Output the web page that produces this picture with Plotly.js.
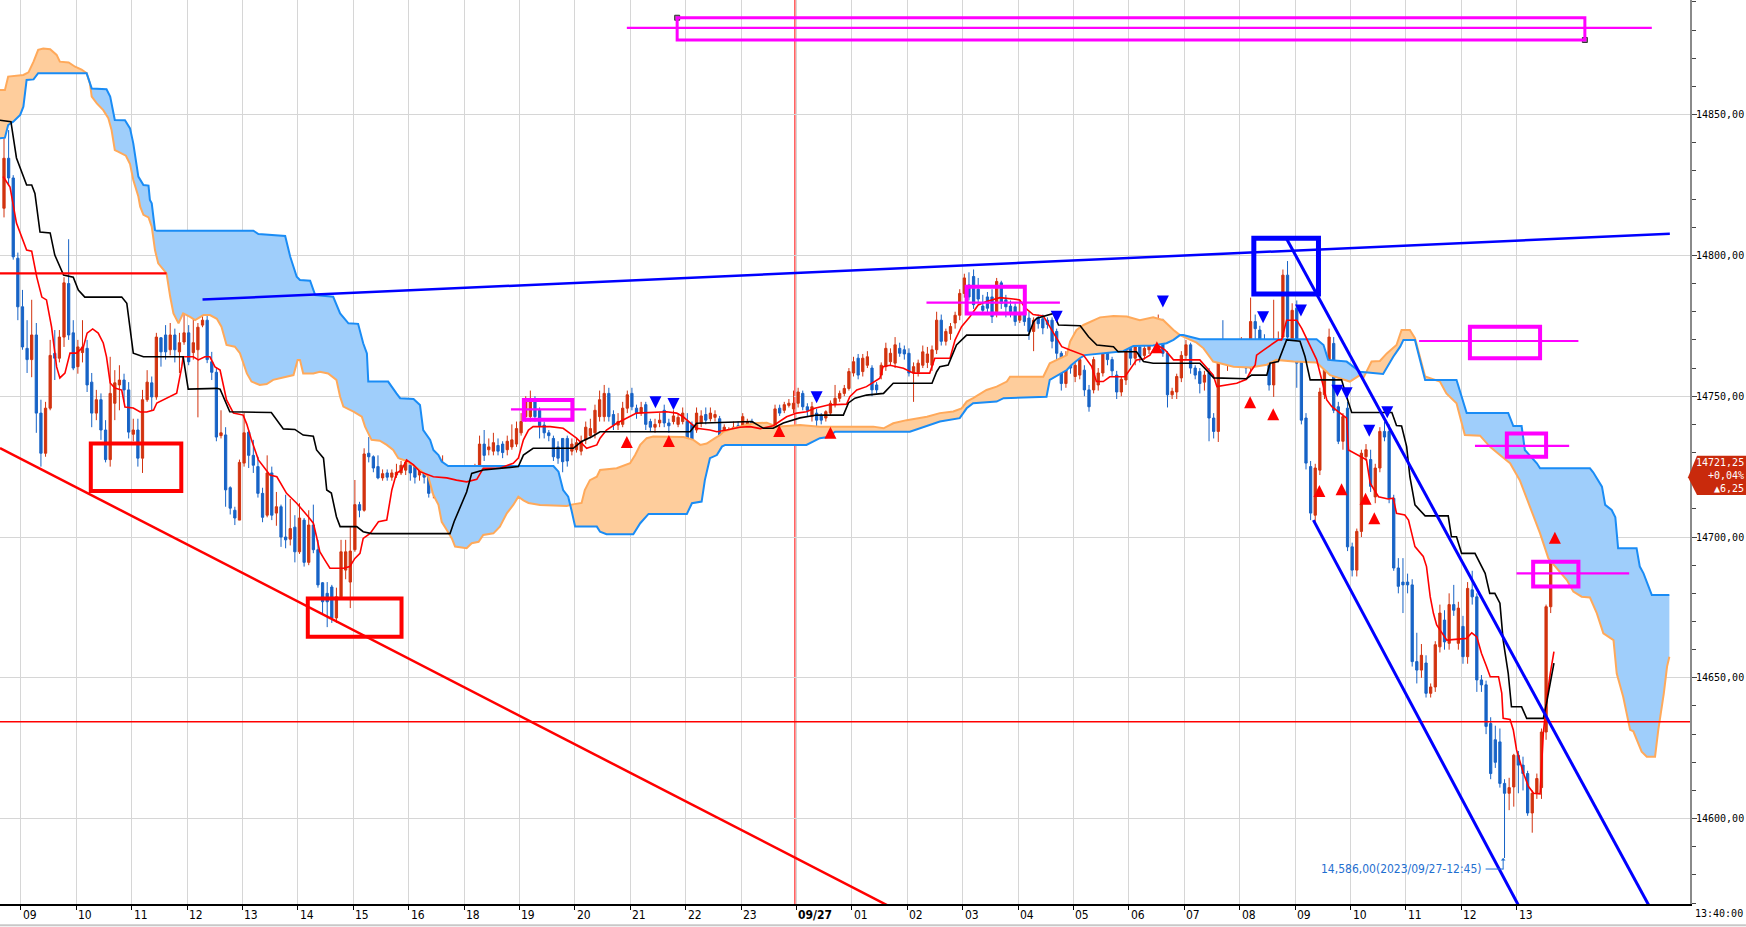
<!DOCTYPE html>
<html><head><meta charset="utf-8">
<script src="https://cdn.plot.ly/plotly-3.0.1.min.js"></script>
<style>html,body{margin:0;padding:0;background:#fff;overflow:hidden}#chart{width:1746px;height:927px}</style>
</head><body><div id="chart"></div>
<script>
// ---------- DATA (5-minute candles, index 0 = 08:40) ----------
const hourLabels = ['09','10','11','12','13','14','15','16','18','19','20','21','22','23','09/27','01','02','03','04','05','06','07','08','09','10','11','12','13'];
const priceTicks = [14600,14650,14700,14750,14800,14850];
const openP = [
14816.75,14834.5,14827.5,14799,14781.75,14767,14763,14771.75,14744,14729.75,
14745.75,14765.25,14763.5,14771,14790,14772.5,14760.5,14765.5,14767,14755,
14744,14748.75,14738,14727.5,14747.5,14754,14755.75,14752.25,14736.5,14738,
14728,14748.75,14754.75,14749.75,14770.75,14771.75,14766.5,14771.75,14765.75,14769.25,
14772.5,14765.5,14766.5,14775.25,14777,14762.25,14758.5,14736,14736.25,14717.5,
14709.5,14706,14726.25,14737.25,14729,14725,14715.5,14707.75,14722.75,14708.5,
14710.75,14700,14699.25,14703.5,14694.75,14706,14691,14704.25,14695.5,14683.75,
14680,14682.25,14671.25,14678.75,14688.25,14684,14695.5,14711.5,14709.5,14729.75,
14728.5,14725,14721,14722.75,14721.25,14722,14722.75,14723.75,14725.5,14725.25,
14722,14724.5,14721.25,14715.5,14721,14720.25,14722.75,14719,14715,14717.75,
14721.25,14718.5,14719,14724,14733,14731,14730.5,14732.5,14733,14731,
14732,14733,14737,14742.75,14742.75,14748,14745,14739.75,14737,14735,
14732,14735,14735,14730.5,14731,14730.5,14734.5,14736,14737,14742.75,
14742.75,14751,14743.5,14739.75,14740,14745.75,14751,14745.75,14744,14747,
14741,14739,14740.5,14745,14740.5,14741,14740,14741,14741,14740,
14738,14740.5,14743.5,14742,14742.5,14742,14734.5,14735.5,14737,14739.5,
14739.25,14738,14741,14737.5,14735.5,14736.5,14739,14738,14745.75,14745,
14746.75,14745.5,14747.5,14751,14746.25,14742.75,14744,14743,14742.25,14744,
14747,14749.25,14751,14752.75,14758.25,14763.5,14758.75,14761,14760,14754,
14757.5,14760.5,14762.25,14761.75,14767,14766.5,14765.25,14758.25,14758.5,14761,
14762,14761,14766.5,14777,14769.5,14772.25,14776,14778.75,14786.5,14789.5,
14792.5,14788,14782,14785.25,14785.25,14780,14790.25,14784.25,14782,14781.75,
14777,14780,14777.75,14773,14777.75,14777.5,14777,14777,14773,14765.25,
14754.5,14764,14757,14757.5,14759.25,14752.25,14752.25,14754,14758.25,14767,
14763,14757.5,14751.5,14755.75,14767,14763.5,14767.5,14764.5,14766.5,14772.75,
14774,14775.75,14765.25,14750.5,14751.5,14756.5,14764.5,14768.25,14760,14758.75,
14755,14758.25,14742.25,14737.5,14765.75,14761,14767,14763.5,14767,14768.75,
14760,14776.5,14773.5,14770,14766.5,14754,14767,14771,14793,14770,
14781.25,14764,14742.25,14725,14707.75,14723.75,14750.5,14760.5,14768.75,14746.25,
14734,14745.75,14696.5,14688.25,14702,14728.5,14727.5,14714.25,14724.5,14737.5,
14737.5,14713.75,14689,14684,14684,14683,14655.75,14652.75,14655.25,14644.5,
14646.75,14661,14670.5,14662.25,14676,14662.25,14668.25,14657.5,14681.25,14678.75,
14649.25,14647.5,14633.75,14628,14627.25,14612.5,14609,14611.25,14622.5,14619,
14616,14602,14609,14611,14630.75,14675.25,14706.5];
const highP = [
14845.5,14844.5,14828.5,14801,14787.75,14777,14784.25,14776,14748.75,14748,
14770,14773.5,14773.5,14792.25,14805.75,14777,14770,14777,14770,14758.25,
14752.25,14751,14741.5,14764,14759.25,14761,14758,14755,14742,14742,
14752.25,14759.25,14757,14772.5,14771,14775.25,14776,14774,14772.5,14781.75,
14775.25,14779.5,14776,14784.25,14781.75,14765.75,14760,14745,14739,14718,
14710.75,14727.5,14744,14738,14734.5,14728.5,14717.5,14729,14725,14716,
14711.5,14715,14713.5,14707.75,14712,14706.75,14709.5,14711.5,14699,14684,
14684,14683,14682,14699,14699,14703.5,14720.25,14712.5,14731.5,14735.5,
14729,14729,14724,14724,14724,14726,14727,14729,14728,14729,
14727,14727,14722,14722,14725,14729,14724,14721,14721,14722,
14723,14723,14726,14736,14738,14735,14737,14735,14734,14736,
14740,14741,14744,14750,14752,14750,14746,14741,14738,14736,
14734,14735,14736,14735,14735,14736,14741,14742,14747,14752,
14754,14753,14745,14744,14748,14752,14753,14747,14748,14748,
14742,14742,14744,14747,14742,14745,14744,14746,14744,14741,
14746,14745,14746,14746,14745,14743,14740,14739,14741,14741,
14744,14742,14742,14739,14739,14739,14740,14747,14747,14748,
14749,14752,14753,14752,14747.5,14748,14745.5,14744,14745,14748.5,
14754,14752,14754,14760,14764,14765,14765,14766,14761,14755,
14762,14769,14767,14771,14769,14768,14767,14762,14763,14768,
14767.5,14768,14780,14779,14774,14776,14780,14788,14793.5,14794,
14795,14792,14786,14787,14788,14792,14791,14786,14784,14783,
14784,14782,14780,14778,14779,14779,14778,14778,14774,14766,
14766,14766,14762,14764,14761,14754,14764,14760,14768,14768,
14764,14759,14757,14770,14769,14769,14770,14768,14775,14777,
14779,14777.5,14766,14753,14758,14766,14770,14769,14761,14760,
14759,14760,14744,14766,14777,14770,14769,14769,14771,14770,
14785,14779,14775,14772,14768,14784.25,14773,14795,14798,14783,
14784,14766,14744,14727,14726,14753,14762,14774,14771,14748,
14744,14748,14698,14703,14731,14733,14731,14726,14739,14741,
14740,14715,14692.5,14692.5,14687,14685,14666,14662,14658,14648,
14663,14676,14674,14680,14683,14677,14672,14684,14688,14680,
14651,14649,14636,14633,14632,14614,14614.5,14623,14624,14622,
14617,14610,14616,14632,14676,14707,14724.25];
const lowP = [
14813.5,14825,14798.5,14777,14766.5,14758.25,14756.75,14737,14725,14728.5,
14745,14755.75,14762,14767.5,14770,14759.25,14758,14762,14751.5,14739,
14741.5,14734.5,14726.5,14725,14741.5,14745,14748,14735,14734,14725,
14722.75,14748,14745,14748.75,14760.5,14763,14764.5,14762,14758.25,14768.25,
14761,14763,14742.5,14774.5,14761.75,14755.75,14734,14735,14710.75,14708,
14704.25,14706,14725,14724.5,14722.75,14714,14705.25,14707,14706,14704,
14696.5,14696,14697,14691,14694,14689.5,14690,14694.25,14682,14673,
14668,14669.5,14669.5,14678,14685,14674.75,14694.75,14707,14709,14726.5,
14723,14720.5,14720,14720,14720,14721,14722,14722,14720,14719,
14720,14719,14714,14713.75,14720,14719,14712.5,14713,14713,14716,
14714,14717,14717.5,14722,14727,14729,14729,14729,14728,14729,
14731,14732,14736,14741,14741,14741,14735,14735,14734,14727,
14726,14723,14725,14729,14730,14729,14733,14735,14735,14741,
14741,14741,14738,14738,14739,14744,14745,14742,14743,14738,
14737.5,14737,14739,14739,14737,14740,14739,14740,14730,14731,
14737,14739,14740,14741,14741,14733,14733,14734,14735,14736,
14738,14737,14736.5,14734,14735,14735,14735,14737,14743,14744,
14746,14744,14746,14745,14743,14741,14738.5,14740,14741,14743,
14746,14748,14750,14752,14757,14756,14757,14760,14750,14751,
14756,14759,14761,14760,14764,14763,14757,14748,14757,14760,
14760,14759,14765,14768,14768,14770,14774,14777,14785,14784,
14781,14783,14779,14779,14776,14778,14781,14778,14778,14775,
14776,14775,14770,14766,14774,14772,14774,14767,14762,14752,
14753,14758,14755,14756,14750,14744.5,14751,14752,14757,14761,
14757,14749,14750,14754,14761,14761,14762,14763,14765,14771,
14772,14764,14746,14749,14749,14755,14763,14758,14756,14751,
14752,14734,14735,14733.75,14762,14759,14762,14762,14765,14758,
14758,14770,14768,14765,14752,14749.75,14765,14769,14768,14768,
14753,14740,14724,14706,14705,14722,14749,14759,14744,14733,
14731,14695,14686,14686,14700,14727,14716,14712,14723,14734,
14712,14688,14680,14673,14680,14654,14648,14650,14643,14643,
14645,14659,14660,14660,14672,14660,14655,14655,14676,14645,
14645,14630,14614,14618,14611,14586,14603,14604.25,14609,14610,
14601,14595,14607,14607,14628,14673,14705];
const closeP = [
14834.5,14827.5,14799.5,14781.75,14767.5,14763,14771.75,14744,14729.75,14745.75,
14764.5,14763.5,14771,14790.25,14771.75,14760,14767.5,14767.5,14754,14744,
14748.75,14738,14727.5,14751,14754.75,14755.75,14752.25,14737.25,14738,14728,
14748.75,14755,14749.75,14771,14765.75,14765.75,14771.75,14766.5,14769,14772.5,
14762.25,14769,14774.5,14777,14763,14758.5,14735.5,14737,14716.75,14710.25,
14706.75,14726.5,14737,14729,14725.5,14715.5,14707,14722.75,14707.75,14710.75,
14700,14699,14703,14694.75,14706.75,14691,14704.25,14695.5,14683,14677,
14677,14671.25,14678.75,14694.75,14694.75,14695,14711.5,14709.5,14729.5,14728.5,
14724.5,14721,14722.5,14721.25,14722.75,14723,14725.5,14726.5,14722.75,14721.25,
14724.5,14721.25,14715.5,14720.25,14722.75,14722.75,14714.25,14715,14719,14720.25,
14717.75,14721.5,14724.5,14733,14729,14732,14733.5,14730.5,14730,14734,
14734.5,14738.5,14741,14748.75,14748,14742.75,14739.5,14737,14736,14728.5,
14728,14726.75,14727,14733,14733.5,14734,14739,14738.5,14745,14748.75,
14751,14742.75,14739.75,14741,14745.75,14750.5,14746.25,14744,14746,14740,
14739,14740,14741.5,14740.5,14739.5,14743,14742.5,14744,14731.75,14732.5,
14744,14743,14741.5,14744,14743.5,14734.5,14739,14738,14739,14737.5,
14742.75,14741,14738,14735.5,14737.5,14738,14736.5,14745.5,14744,14747,
14747.5,14747.5,14751.5,14746.25,14745,14746.25,14741.5,14741.5,14744.5,14747.5,
14749.25,14751,14752.75,14758.75,14762.25,14757.5,14763.5,14764,14752.25,14752.25,
14761,14767,14765.25,14768.25,14765.25,14765,14758.25,14760.5,14761.75,14765.75,
14765,14766.5,14777,14769.5,14773,14774.75,14778.75,14786.5,14792,14785.25,
14782.5,14784.5,14780.5,14781.25,14778.25,14790.75,14783,14781.75,14780,14776.5,
14778.75,14776.5,14773,14777,14775.75,14774.25,14775.5,14769.5,14765.25,14754.5,
14764,14760,14761,14763,14752.25,14746.25,14763,14758.25,14765.75,14763,
14759,14751.5,14756,14767,14763.5,14767.5,14764,14767,14773.5,14775,
14777,14765.25,14750.5,14751.75,14757,14764.5,14768.25,14760,14757.5,14754.5,
14757.5,14742.25,14737.5,14765.25,14763,14767,14764,14767.5,14768.75,14760,
14776.5,14774,14770,14766.5,14754,14766.5,14770,14793,14771,14780.5,
14761.75,14741.5,14726.25,14708.5,14724.5,14751.5,14760.5,14771,14745,14734,
14742.75,14696.5,14688.25,14702,14729.75,14731,14718,14724.5,14737.5,14735.5,
14713.75,14689,14682.5,14683,14683,14655.75,14652.75,14658,14644.5,14646.75,
14661.75,14673,14662.75,14676,14674,14674.75,14657.5,14681.75,14678.75,14649.25,
14647.5,14632.75,14616,14620,14612.5,14609,14611,14622.5,14619,14616,
14602,14609,14614.25,14630.75,14675.25,14706.5,14721.25];

// Ichimoku lines, read as [candle index, price] vertices
const tenkanPts = [[-0.2,14828],[1.3,14824.3],[2.7,14811.5],[4.2,14804.4],[4.9,14801.9],[6,14801.5],[7.1,14792.3],[8.2,14785.2],[9.2,14784.2],[10.3,14774.6],[11.4,14760.4],[12.1,14756.5],[13.2,14758.2],[14.3,14765.3],[15.7,14765.3],[17.2,14767.5],[18,14772.4],[19.2,14773.9],[20.4,14772.4],[21.5,14768.9],[22.2,14764],[23,14754.7],[24,14752.9],[25.5,14752.2],[26.2,14746.2],[28,14745.8],[29.5,14744.4],[30.9,14744.4],[32.4,14745.1],[33.1,14747.6],[35.2,14749.4],[37.4,14751.1],[38.5,14760.4],[38.8,14764],[41,14764],[42.1,14762.9],[43.5,14764],[44.6,14764],[45.7,14760.4],[46.8,14759.3],[48.2,14748.7],[49.7,14744],[51.8,14743.3],[52.6,14740],[53.6,14734.5],[55.1,14727.4],[57.6,14722],[59.1,14721.4],[61.2,14715.5],[63.4,14712],[65.9,14707.2],[67,14704.9],[67.7,14700.1],[68.4,14694.8],[69.5,14691.8],[70.6,14688.9],[73.5,14688.9],[74.9,14689.5],[76,14692.4],[77.1,14694.2],[77.8,14699.5],[79.3,14701.3],[81.1,14705.4],[82.9,14706],[84,14716.7],[85,14722.6],[86.1,14723.8],[87.2,14727.4],[88.7,14725.6],[90.1,14723.2],[93,14721.4],[95.9,14721],[98,14720.2],[100.2,14719.6],[102.4,14720.5],[103.8,14724.4],[107.4,14724.4],[110.3,14726.2],[111.4,14728],[112.5,14734.5],[113.6,14738],[114.6,14739.2],[118.3,14739.2],[121.1,14738.6],[122.6,14736.8],[124,14735.1],[126.2,14731.5],[128.4,14732.7],[129.1,14735.1],[130.5,14738],[132.7,14740.4],[134.9,14742.2],[137,14744],[143.5,14744.5],[145.7,14744],[147.1,14742.7],[148.6,14740.4],[150,14738.6],[152.9,14738],[154.4,14737.4],[156.5,14738],[159.4,14739],[161.6,14739.2],[163.8,14738.5],[166.6,14739.5],[169.5,14742.7],[171.7,14744],[173.8,14744.5],[175.6,14745.7],[178.5,14746.9],[182.5,14747.2],[183.2,14749.8],[184.7,14752.2],[186.8,14753.4],[189.7,14756.4],[190.4,14760.5],[191.9,14761],[194.8,14759.9],[197,14758.2],[200.5,14758.2],[201.6,14763.5],[204.9,14763.5],[206,14770],[207.4,14774.7],[209.2,14778.2],[211,14782.4],[212.8,14783.6],[215.7,14785],[218.6,14784.5],[220,14784.2],[221.1,14781.5],[222.9,14779],[225.1,14778.5],[226.5,14774.7],[228,14771.1],[229.1,14767.6],[230.9,14766.4],[233.8,14764.6],[235.6,14760.5],[236.6,14755.2],[238.1,14755.2],[239.5,14756.9],[242.8,14756.9],[243.5,14758.7],[245.3,14762.9],[246.8,14763.2],[248.2,14764.6],[249.3,14767.6],[250,14768],[251.5,14766.4],[253.3,14762.9],[259,14762.9],[259.8,14761.5],[261.9,14757.5],[262.7,14753.4],[267,14754.6],[269.1,14756],[269.9,14758.5],[271,14761.1],[271.3,14764.6],[272.8,14766.4],[275,14768.8],[276,14770],[276.7,14770],[277.8,14777],[280,14777],[281.1,14774],[284.3,14763],[285.4,14755.8],[286.5,14748.7],[287.6,14746.3],[290.8,14742.2],[291.2,14730.9],[295.1,14727.4],[295.9,14719.1],[297.7,14714.3],[299.8,14713.5],[300.9,14713.8],[301.6,14708.4],[303.4,14707.8],[304.2,14706],[305.6,14696.6],[307.4,14693.1],[308.1,14689.5],[308.9,14678.8],[309.6,14672.9],[310.3,14668.8],[312.5,14663.4],[316.8,14664],[317.9,14666],[319,14664.5],[320,14658.7],[321.1,14654],[321.9,14650.4],[323.7,14650.4],[324.4,14644.6],[324.7,14635.6],[326.2,14635.2],[326.9,14631.5],[327.6,14624.4],[329.1,14616.1],[330.2,14611.4],[331.3,14609],[332.7,14608.8],[333.4,14630.3],[334.2,14643.3],[334.9,14651.5],[335.7,14659.3]];
const kijunPts = [[-0.9,14848],[1.5,14847.5],[2.7,14834.6],[4.2,14827.8],[4.9,14825],[6,14825],[6.7,14822],[7.8,14808.3],[10,14808],[11,14800.1],[12.9,14793],[15,14792.3],[16.1,14787.7],[17.5,14785.2],[25.5,14785.2],[26.6,14783],[27.6,14768.9],[28,14765.3],[30.2,14764],[38.8,14764],[39.9,14752.5],[46.1,14752.8],[46.8,14752.5],[48.9,14744.5],[57.9,14744.2],[59.1,14741.6],[60.5,14738.4],[63,14738.2],[64.8,14736.2],[67,14735.8],[67.7,14730.9],[69.2,14728],[69.9,14716.7],[70.9,14715.6],[72,14707.2],[72.8,14703.7],[76.4,14703.7],[77.8,14701.9],[79.6,14701.2],[96.6,14701.2],[97.5,14705.5],[100.2,14716],[101.3,14722.6],[103.8,14723.8],[111.4,14725],[112.5,14729.1],[114.6,14731.5],[123.3,14731.5],[125.1,14733.9],[127.3,14735.6],[129.1,14737.4],[148.6,14737.4],[150,14740.4],[162,14741],[164.5,14738.6],[166.6,14738.6],[168.8,14740.5],[172.4,14742.3],[176,14743.3],[181.8,14743.3],[182.9,14747.6],[184.3,14749.3],[186.8,14750.4],[190.5,14751],[192.6,14754.6],[201,14754.6],[202,14758.7],[202.7,14760.5],[204.5,14761.1],[206.3,14768.2],[208.5,14771.7],[221.9,14771.7],[223,14776.5],[223.7,14777.7],[225.8,14778.8],[227.3,14779.4],[228.4,14775.3],[233.1,14775],[234.9,14771.1],[236.7,14768.2],[240.3,14767.6],[241.3,14765.8],[245.3,14765.8],[246.8,14762.3],[248.9,14761.7],[259,14761.7],[260.1,14759.9],[262,14756.5],[269.1,14756.2],[270.2,14757.5],[273.5,14757.5],[274.2,14761.7],[276,14762.3],[276.7,14765.2],[277.8,14770],[280.7,14769.5],[281.8,14764],[282.9,14755.8],[289.7,14755.8],[290.8,14749.8],[291.9,14744.2],[300.6,14744.2],[301.6,14739.6],[302.7,14739.4],[303.8,14732.1],[304.5,14721.4],[305.6,14711.4],[307.8,14707.5],[312.8,14707.5],[313.5,14700.1],[314.6,14700.1],[315.7,14694.2],[318.6,14694.2],[320.8,14687.1],[321.8,14680],[322.9,14680],[324,14676.5],[324.7,14663.4],[325.8,14651.6],[326.5,14639.7],[328.7,14639.7],[329.8,14635.6],[333.4,14635.6],[334.1,14641],[335.2,14650.4],[335.7,14655.2]];
const spanAPts = [[-0.9,14858.7],[0.2,14858.7],[0.9,14863.5],[4.2,14864.1],[5.3,14865],[6.4,14868.8],[7.4,14873],[8.5,14873.5],[10,14873.2],[11.4,14871.2],[12.1,14868.8],[14,14868.5],[15.4,14867],[16.8,14866],[17.9,14864.7],[18.6,14861.1],[19,14856.4],[20.1,14854],[21.5,14851.6],[22.6,14848.7],[23.3,14844.5],[24,14837.4],[24.8,14836.8],[26.4,14835.4],[27.3,14832.4],[28,14826.8],[29.1,14820.9],[29.5,14817.3],[30.2,14814.4],[31.3,14813.5],[32,14810.2],[32.7,14801.9],[33.4,14797.2],[35.2,14793.6],[36,14785.3],[36.7,14779.4],[37.8,14775.9],[38.8,14779.4],[40.3,14778.2],[41.4,14777],[43.2,14778.8],[44.6,14778.8],[46.1,14777.5],[47.1,14774.7],[48.2,14768.2],[50,14767.6],[51.1,14765.3],[52.6,14758.1],[53.6,14755.2],[55.4,14754],[56.9,14754.3],[58.3,14755.8],[62.7,14757.5],[63.6,14762.9],[64.1,14762.9],[64.8,14758.1],[67,14758.1],[68.4,14758.7],[70.2,14758.1],[72,14755.8],[72.8,14749.8],[73.5,14746.3],[75.7,14744.5],[77.5,14742.7],[78.2,14739.2],[79.6,14734.5],[81.4,14734.2],[82.9,14732.7],[84.3,14730.9],[85.4,14728],[87.2,14727],[90.1,14723.8],[91.9,14721.4],[93,14714.9],[94.1,14711.4],[94.8,14705.4],[95.9,14702.5],[97,14699.5],[97.7,14696.6],[100.2,14696],[101.3,14697.8],[102.8,14698.3],[103.8,14700.7],[106,14701.3],[107.4,14703.7],[108.9,14708.4],[110.3,14711.4],[111.4,14714.3],[112.5,14713],[113.6,14712.1],[116.1,14711.4],[121.9,14711],[122.9,14711.5],[125.1,14712.1],[125.8,14716.7],[126.9,14720.2],[128.4,14721.4],[129.1,14723.8],[132.7,14724.4],[135.6,14726.2],[136.7,14729.1],[137.8,14732.7],[139.2,14735.1],[140.6,14735.7],[147.2,14735.5],[149.3,14734.5],[150.8,14732.7],[152.2,14733.2],[154,14735.1],[155.1,14736.2],[155.8,14737.4],[158,14738.6],[162.3,14740.4],[165.2,14740.6],[167.4,14739.2],[169.5,14739.5],[172.4,14739.8],[176.7,14739.2],[188.3,14739.2],[190.5,14738.6],[192.6,14740.4],[195.5,14741.5],[199.9,14742.7],[202.7,14744],[205.6,14744.6],[207.4,14745.7],[208.5,14748.1],[209.9,14749.3],[212.8,14752.2],[215,14753.4],[217.2,14755.2],[217.9,14756.9],[225.1,14756.9],[226.5,14761.7],[230.2,14764.6],[230.9,14769.4],[232.3,14773.5],[233.8,14775.3],[236.3,14777],[237.4,14778],[240.3,14778.5],[243.2,14778.3],[246,14777],[247.5,14777.5],[248.9,14778],[251.1,14777],[253.3,14773.5],[254.7,14771.7],[258.3,14769],[259.8,14767],[261.9,14762.3],[266.3,14760.5],[269.9,14760.2],[273.5,14761.2],[275.6,14762.9],[279.3,14762.3],[284.3,14762],[287.2,14757.5],[290.8,14755.8],[291.5,14755.2],[293.7,14757.5],[294.4,14756.4],[296.2,14762.3],[298,14762.5],[299.5,14765.2],[301.6,14768.2],[302.7,14773.5],[304.5,14773.5],[305.6,14770.6],[307.8,14757],[311,14755.2],[312.4,14751],[314.6,14747.5],[316.4,14736.2],[319.7,14736],[321.8,14732.1],[324,14729.1],[326.2,14726.2],[328.3,14720.2],[330.5,14710.8],[332.7,14701.3],[334.5,14692.4],[337,14687.7],[338.5,14684.7],[339.9,14680.6],[341.7,14678.8],[343.5,14678.5],[345,14672.9],[346.4,14665.8],[348.6,14663.4],[349.3,14651.5],[350.7,14643.3],[352.2,14631.5],[352.9,14631],[354.7,14623.8],[355.8,14622],[357.6,14622],[358.3,14631.5],[359.5,14644.5],[360.2,14654],[360.7,14657.5]];
const spanBPts = [[-0.9,14841.6],[0.2,14841.8],[0.9,14846.3],[2,14847.5],[3.5,14849.9],[4.2,14852.8],[4.9,14862.3],[6.4,14862.5],[7.4,14864.7],[17.9,14864.7],[19,14859.3],[22.2,14859],[23,14856.4],[24,14848.1],[26.2,14848],[27.3,14845.1],[28,14839.8],[29.1,14828],[30.2,14825],[31.3,14824.8],[31.6,14819.7],[32,14818.5],[32.7,14809],[33.1,14808.8],[54,14808.8],[55.1,14807.6],[60.9,14806.9],[62,14799.5],[63.4,14792.4],[64.1,14791.3],[66.3,14791],[67.4,14785.9],[71.3,14785.3],[72.8,14779.4],[74.6,14775.9],[76.7,14775.7],[77.8,14768.8],[78.6,14765.2],[78.9,14755.2],[83.2,14755.2],[85,14751],[85.8,14749.3],[88.7,14749],[90.1,14746.9],[90.8,14738],[92.3,14734.5],[93,14730.9],[94.1,14729.1],[94.8,14726.8],[96.2,14725.2],[119,14725.2],[120.1,14723.2],[121.1,14716.7],[122.2,14714.3],[122.9,14709.6],[123.7,14703.7],[128.4,14703.7],[129.1,14701.9],[130.5,14701],[136.3,14701],[137.8,14704.9],[139.6,14708.2],[147.9,14708.2],[149,14712],[151.1,14712.6],[151.8,14720.2],[152.9,14728],[154.4,14729.1],[155.5,14732.1],[156.2,14732.7],[173.8,14732.7],[175.3,14733.9],[176.7,14735.1],[178.5,14735.5],[180,14737.4],[196.2,14737.4],[198.4,14738.6],[201.3,14740.4],[202.7,14741],[207,14742.2],[208.5,14745.7],[209.9,14747.5],[215,14748.1],[216.5,14749.3],[225.8,14749.8],[226.5,14755.8],[230.2,14759.3],[231.2,14761.1],[233,14763.5],[234.1,14764.6],[237.4,14765.2],[242.4,14766],[244.6,14767.8],[248.9,14768],[251.8,14768.8],[253.3,14770],[254.7,14771.7],[255.4,14771.7],[259,14770.2],[284.3,14770.2],[285.8,14768.2],[286.8,14762.9],[290.8,14762.3],[292.3,14760.5],[293.7,14758.7],[298.7,14757.9],[299.8,14761.1],[300.9,14764],[302.4,14767.6],[303.1,14770],[305.6,14770],[307.8,14755.8],[314.6,14755.8],[316.8,14744],[325.8,14744],[326.9,14739.4],[328.7,14739.4],[329.4,14730.9],[332,14726.2],[332.7,14724.4],[343.5,14724.4],[344.2,14723],[346.1,14717.9],[346.8,14711.4],[348.2,14709.6],[349,14707],[349.6,14696],[353.6,14696],[354.3,14689.5],[355.1,14687.1],[356.2,14682.4],[356.9,14679.4],[360.7,14679.4]];

// signal arrows [index, price]
const buySignals = [[134.9,14735.9],[144,14736.2],[167.9,14739.8],[179,14739.2],[249.7,14769.5],[269.9,14750],[274.9,14745.7],[284.9,14718.5],[289.7,14719.1],[294.9,14715.7],[296.8,14708.8],[335.9,14701.9]];
const sellSignals = [[141.1,14745.7],[145,14745.1],[176,14747.5],[228,14776.1],[251,14781.5],[272.7,14775.9],[280.9,14778.3],[288.8,14749.8],[290.8,14748.9],[295.7,14735.6],[299.6,14742.2]];

// drawn objects, in [index, price]
const leftLevel = [[-0.9,14793.6],[35.2,14793.6]];
const longResistance = [[43.0,14784.3],[360.8,14807.7]];
const longSupport = [[-0.87,14731.6],[200,14561.9]];
const supportLevel = 14634.4;
const channelTop = [[277.7,14806.2],[360,14557.9]];
const channelBottom = [[283.6,14706],[330,14563.1]];
const redBoxes = [[18.8,38.4,14716.3,14733.2],[65.8,86.1,14664.6,14678.2]];
// [x0,x1,y0,y1,lineStart,lineEnd,lineY]
const pinkBoxes = [[112.6,123.1,14741.6,14748.7,109.8,126.1,14745.3],[208.5,221.1,14779.4,14788.9,199.8,228.7,14783.2],[317.5,332.7,14763.5,14774.7,306.5,341.0,14769.6],[325.5,334.0,14728.5,14736.8,318.6,339.0,14732.4],[331.2,341.0,14682.4,14691.2,327.6,352.0,14687.1]];
const topBox = [145.8,342.4,14876.5,14884.4,134.9,356.9,14880.8];
const blueBox = [270.7,284.7,14786.3,14806.1];
const dateLine = 171.3;
const lowMark = {idx:325, price:14586, text:'14,586,00(2023/09/27-12:45)'};
const lastQuote = ['14721,25','+0,04%','▲6,25'];
const lastPrice = 14721.25;
const lastTime = '13:40:00';

// ---------- BUILD ----------
const X0 = -0.866, X1 = 365.17, Y0 = 14569.68, Y1 = 14890.7;
const idx = openP.map((_, i) => i);
const tickPos = hourLabels.map((_, k) => 3.64 + 12 * k);
const UP = '#d2330f', DOWN = '#1763c6';
const NARROW = 'Liberation Sans Narrow, DejaVu Sans Condensed, Arial Narrow, sans-serif';
const MONO = 'DejaVu Sans Mono, Liberation Mono, monospace';
const traces = [];

function interp(pts, x) {
  if (x <= pts[0][0]) return pts[0][1];
  for (let j = 1; j < pts.length; j++) {
    if (x <= pts[j][0]) { const [a0, b0] = pts[j-1], [a1, b1] = pts[j]; return b0 + (b1 - b0) * (x - a0) / (a1 - a0); }
  }
  return pts[pts.length-1][1];
}
// cloud fills
(function(){
  const xs = Array.from(new Set([...spanAPts.map(p=>p[0]), ...spanBPts.map(p=>p[0])])).sort((a,b)=>a-b);
  const pts = xs.map(x => ({x, a: interp(spanAPts, x), b: interp(spanBPts, x)}));
  const full = [];
  for (let j = 0; j < pts.length; j++) {
    if (j > 0) {
      const p = pts[j-1], q = pts[j], d0 = p.b - p.a, d1 = q.b - q.a;
      if (d0 * d1 < 0) { const t = d0 / (d0 - d1); const x = p.x + t*(q.x-p.x); const y = p.a + t*(q.a-p.a); full.push({x, a:y, b:y}); }
    }
    full.push(pts[j]);
  }
  const runs = []; let cur = null;
  for (const p of full) {
    const d = p.b - p.a, s = d > 1e-9 ? 1 : (d < -1e-9 ? -1 : 0);
    if (!cur) { cur = {sign: s, pts: [p]}; continue; }
    cur.pts.push(p);
    if (cur.sign === 0 && s !== 0) cur.sign = s;
    if (s === 0 && cur.pts.length > 1) { runs.push(cur); cur = {sign: 0, pts: [p]}; }
  }
  if (cur) runs.push(cur);
  runs.forEach(r => {
    if (r.sign === 0 || r.pts.length < 2) return;
    const xx = r.pts.map(p=>p.x).concat(r.pts.map(p=>p.x).reverse());
    const yy = r.pts.map(p=>p.a).concat(r.pts.map(p=>p.b).reverse());
    traces.push({type:'scatter', mode:'lines', x:xx, y:yy, fill:'toself', fillcolor: r.sign > 0 ? '#9fcefb' : '#fecd9c', line:{width:0}, hoverinfo:'skip'});
  });
})();
traces.push({type:'scatter', mode:'lines', x:spanAPts.map(p=>p[0]), y:spanAPts.map(p=>p[1]), line:{color:'#ffa95a', width:2}});
traces.push({type:'scatter', mode:'lines', x:spanBPts.map(p=>p[0]), y:spanBPts.map(p=>p[1]), line:{color:'#1a8cf5', width:2}});

traces.push({type:'candlestick', x:idx, open:openP, high:highP, low:lowP, close:closeP,
  increasing:{line:{color:UP, width:1}, fillcolor:UP}, decreasing:{line:{color:DOWN, width:1}, fillcolor:DOWN}, whiskerwidth:0});

traces.push({type:'scatter', mode:'lines', x:tenkanPts.map(p=>p[0]), y:tenkanPts.map(p=>p[1]), line:{color:'#ff0000', width:1.6}});
traces.push({type:'scatter', mode:'lines', x:kijunPts.map(p=>p[0]), y:kijunPts.map(p=>p[1]), line:{color:'#000000', width:1.6}});

function seg(pts, color, width){ traces.push({type:'scatter', mode:'lines', x:pts.map(p=>p[0]), y:pts.map(p=>p[1]), line:{color, width}}); }
seg(leftLevel, '#ff0000', 2.2);
seg([[X0, supportLevel],[X1, supportLevel]], '#ff0000', 1.6);
seg(longSupport, '#ff0000', 2.5);
seg(longResistance, '#0000ff', 2.5);
seg(channelTop, '#0000ff', 3);
seg(channelBottom, '#0000ff', 3);
pinkBoxes.forEach(b => seg([[b[4], b[6]],[b[5], b[6]]], '#ff00ff', 2.2));
seg([[topBox[4], topBox[6]],[topBox[5], topBox[6]]], '#ff00ff', 2.2);
traces.push({type:'scatter', mode:'markers', x:[topBox[0], topBox[1]], y:[topBox[3], topBox[2]], marker:{symbol:'square', size:5, color:'#7a7a7a', line:{color:'#333', width:1}}});

traces.push({type:'scatter', mode:'markers', x:buySignals.map(p=>p[0]), y:buySignals.map(p=>p[1]), marker:{symbol:'arrow-up', size:12, color:'#ff0000', line:{width:0}}});
traces.push({type:'scatter', mode:'markers', x:sellSignals.map(p=>p[0]), y:sellSignals.map(p=>p[1]), marker:{symbol:'arrow-down', size:12, color:'#0000ff', line:{width:0}}});

const shapes = [];
shapes.push({type:'line', xref:'x', yref:'paper', x0:dateLine, x1:dateLine, y0:0, y1:1, line:{color:'#ff0000', width:1}, layer:'below'});
redBoxes.forEach(b => shapes.push({type:'rect', xref:'x', yref:'y', x0:b[0], x1:b[1], y0:b[2], y1:b[3], line:{color:'#ff0000', width:4}, fillcolor:'rgba(0,0,0,0)'}));
pinkBoxes.forEach(b => shapes.push({type:'rect', xref:'x', yref:'y', x0:b[0], x1:b[1], y0:b[2], y1:b[3], line:{color:'#ff00ff', width:4}, fillcolor:'rgba(0,0,0,0)'}));
shapes.push({type:'rect', xref:'x', yref:'y', x0:topBox[0], x1:topBox[1], y0:topBox[2], y1:topBox[3], line:{color:'#ff00ff', width:3}, fillcolor:'rgba(0,0,0,0)'});
shapes.push({type:'rect', xref:'x', yref:'y', x0:blueBox[0], x1:blueBox[1], y0:blueBox[2], y1:blueBox[3], line:{color:'#0000ff', width:5}, fillcolor:'rgba(0,0,0,0)'});
// low price marker connector
shapes.push({type:'line', xref:'x', yref:'y', x0:320.9, x1:lowMark.idx - 0.3, y0:14582.1, y1:14582.1, line:{color:'#1f6fd0', width:1}});
// price label box on the right axis
const px = v => v / 1690;
shapes.push({type:'path', xref:'paper', yref:'y', path:`M ${px(1688)},${lastPrice} L ${px(1697)},14728.9 L ${px(1746)},14728.9 L ${px(1746)},14714.9 L ${px(1697)},14714.9 Z`, fillcolor:'#c92a0c', line:{width:0}});
// bottom border line
shapes.push({type:'line', xref:'paper', yref:'paper', x0:0, x1:1.0331, y0:-0.0235, y1:-0.0235, line:{color:'#c8c8c8', width:2}});

const annotations = [];
hourLabels.forEach((lab, k) => annotations.push({x: tickPos[k], y: 0, xref:'x', yref:'paper', xanchor:'left', yanchor:'top', yshift:-2, xshift:0, showarrow:false,
  text: lab === '09/27' ? '<b>' + lab + '</b>' : lab, font:{family:NARROW, size:12, color:'#000'}}));
priceTicks.forEach(v => annotations.push({x: px(1745), y: v, xref:'paper', yref:'y', xanchor:'right', yanchor:'middle', showarrow:false, borderpad:0,
  text: v.toFixed(2).replace('.', ','), font:{family:MONO, size:10, color:'#000'}}));
annotations.push({x:px(1745), y:0, xref:'paper', yref:'paper', xanchor:'right', yanchor:'top', yshift:-2, showarrow:false, text:lastTime,
  font:{family:MONO, size:10, color:'#000'}});
annotations.push({x:320.6, y:14582.1, xref:'x', yref:'y', xanchor:'right', yanchor:'middle', showarrow:false, text:lowMark.text,
  font:{family:NARROW, size:12, color:'#1f6fd0'}});
annotations.push({x:lowMark.idx - 0.3, y:lowMark.price, xref:'x', yref:'y', ax:0, ay:13, showarrow:true, arrowhead:1, arrowsize:0.8, arrowwidth:1, arrowcolor:'#1f6fd0', text:''});
const qy = [14726.3, 14721.8, 14717.3];
lastQuote.forEach((t, k) => annotations.push({x: px(1745), y: qy[k], xref:'paper', yref:'y', xanchor:'right', yanchor:'middle', showarrow:false, borderpad:0, text:t,
  font:{family:MONO, size:10, color:'#ffffff'}}));

const layout = {
  width:1746, height:927, margin:{l:0, r:56, t:0, b:23, pad:0}, paper_bgcolor:'#ffffff', plot_bgcolor:'#ffffff',
  showlegend:false, hovermode:false,
  xaxis:{range:[X0, X1], tickmode:'array', tickvals:tickPos, showticklabels:false, ticks:'outside', ticklen:4, tickcolor:'#000',
    showgrid:true, gridcolor:'#d6d6d6', gridwidth:1, showline:true, linecolor:'#000', linewidth:2, zeroline:false, rangeslider:{visible:false}, fixedrange:true},
  yaxis:{side:'right', range:[Y0, Y1], tickmode:'array', tickvals:priceTicks, showticklabels:false, ticks:'outside', ticklen:5, tickcolor:'#444',
    showgrid:true, gridcolor:'#d6d6d6', gridwidth:1, showline:true, linecolor:'#8a8a8a', linewidth:2, zeroline:false, fixedrange:true,
    minor:{tickmode:'linear', tick0:14600, dtick:10, ticks:'outside', ticklen:4, tickcolor:'#444', showgrid:false}},
  shapes, annotations
};
Plotly.newPlot('chart', traces, layout, {staticPlot:true, displayModeBar:false});
</script></body></html>
